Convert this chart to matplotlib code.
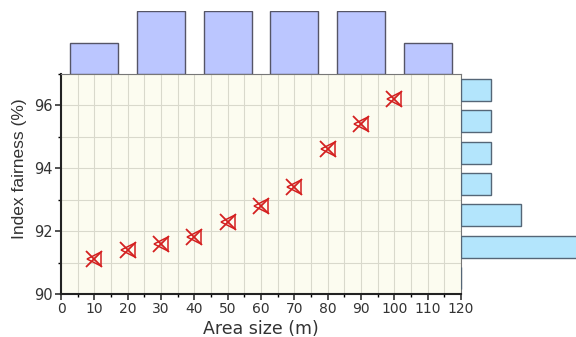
import numpy as np
import matplotlib
matplotlib.use("Agg")
import matplotlib.pyplot as plt

plt.rcParams['font.family'] = ['DejaVu Sans']

# data
area_size = [10, 20, 30, 40, 50, 60, 70, 80, 90, 100]
fairness = [91.1, 91.4, 91.6, 91.8, 92.3, 92.8, 93.4, 94.6, 95.4, 96.2]
x_bins = [0, 20, 40, 60, 80, 100, 120]
y_bins = [90, 91, 92, 93, 94, 95, 96, 97]

fig = plt.figure(figsize=(5.76, 3.37), dpi=100)
W, H = 576, 337
L, R, B, T = 61, 461, 294, 74

ax = fig.add_axes([L / W, 1 - B / H, (R - L) / W, (B - T) / H])
ax_top = fig.add_axes([L / W, 1 - T / H, (R - L) / W, (T - 11) / H], sharex=ax)
ax_right = fig.add_axes([R / W, 1 - B / H, (W - R) / W, (B - T) / H], sharey=ax)

ax.set_facecolor('#fcfcf0')
ax.set_xlim(0, 120)
ax.set_ylim(90, 97)
ax.set_xticks(np.arange(0, 121, 10))
ax.set_xticks(np.arange(0, 121, 5), minor=True)
ax.set_yticks([90, 92, 94, 96])
ax.set_yticks(np.arange(90, 97.1, 1), minor=True)
ax.grid(True, which='both', color='#d9d9cc', lw=0.8)
ax.set_axisbelow(True)
ax.tick_params(which='major', direction='out', length=4, width=1.2, colors='#333333')
ax.tick_params(which='minor', direction='out', length=2.5, width=1)
ax.tick_params(axis='x', labelsize=10, pad=2)
ax.tick_params(axis='y', labelsize=10.5, pad=2)
for s in ['left', 'bottom']:
    ax.spines[s].set_linewidth(1.5)
    ax.spines[s].set_color('#222222')
for s in ['top', 'right']:
    ax.spines[s].set_color('#777777')
ax.set_xlabel('Area size (m)', fontsize=12.5, color='#333333', labelpad=3)
ax.set_ylabel('Index fairness (%)', fontsize=12.5, color='#333333',
              family='Liberation Sans')
ax.yaxis.set_label_coords(-0.085, 0.57)

ax.plot(area_size, fairness, ls='none', marker='x', ms=11, mec='#d42020', mew=1.3)
ax.plot(area_size, fairness, ls='none', marker='<', ms=10, mfc='none', mec='#d42020', mew=1.1)

ax_top.hist(area_size, bins=x_bins, rwidth=0.72, color='#bbc6ff', edgecolor='#555566', lw=1)
ax_top.set_ylim(0, 2)
ax_top.axis('off')

ax_right.hist(fairness, bins=y_bins, orientation='horizontal', rwidth=0.7,
              color='#b3e5fc', edgecolor='#556677', lw=1)
ax_right.set_xlim(0, 115 / 30)
ax_right.axis('off')

fig.savefig('out.png', dpi=100)
